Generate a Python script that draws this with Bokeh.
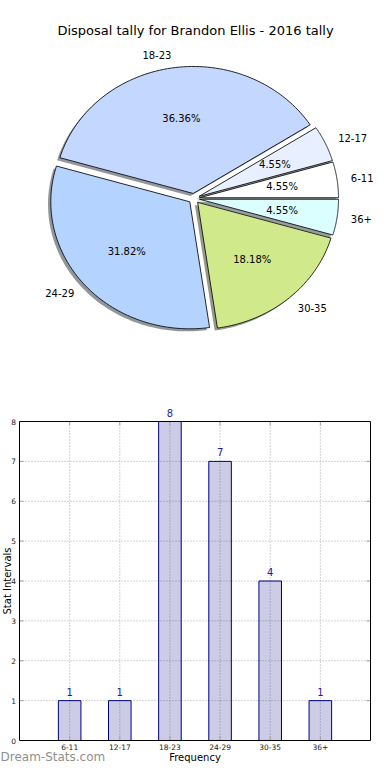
import numpy as np
from bokeh.plotting import figure
from bokeh.layouts import column
from bokeh.models import ColumnDataSource, Range1d
from bokeh.core.properties import value
from bokeh.embed import file_html
from bokeh.resources import INLINE

# ---------------- data ----------------
title_text = "Disposal tally for Brandon Ellis - 2016 tally"
categories = ["6-11", "12-17", "18-23", "24-29", "30-35", "36+"]
counts = [1, 1, 8, 7, 4, 1]
pie_colors = ["#FFFFFF", "#E8F0FF", "#C4D8FF", "#B4D4FF", "#D0EA8B", "#DBFFFF"]
y_ticks = [0, 1, 2, 3, 4, 5, 6, 7, 8]
x_label = "Frequency"
y_label = "Stat Intervals"
watermark = "Dream-Stats.com"

FONT = "DejaVu Sans"

# ---------------- pie ----------------
W, H1 = 374, 382
CX, CY = 193.5, 198.0
RX, RY = 139.0, 127.0
x0, x1 = -CX / RX, (W - CX) / RX
y1, y0 = CY / RY, -(H1 - CY) / RY


def px2x(px):
    return x0 + px / RX


def py2y(py):
    return y1 - py / RY


p1 = figure(width=W, height=H1, x_range=Range1d(x0, x1), y_range=Range1d(y0, y1),
            output_backend="svg", toolbar_location=None, min_border=0,
            x_axis_location=None, y_axis_location=None)
p1.grid.visible = False
p1.outline_line_color = None

total = float(sum(counts))
fr = np.array(counts) / total
ends = np.cumsum(fr) * 360.0
starts = ends - fr * 360.0
mids = np.radians((starts + ends) / 2.0)
EXPLODE = 0.04
SH = 0.02

xs, ys, sxs, sys_, shadow_cols = [], [], [], [], []
for a0, a1, m, col in zip(starts, ends, mids, pie_colors):
    t = np.radians(np.linspace(a0, a1, 80))
    ox, oy = EXPLODE * np.cos(m), EXPLODE * np.sin(m)
    px = np.concatenate([[ox], ox + np.cos(t)])
    py = np.concatenate([[oy], oy + np.sin(t)])
    xs.append(px)
    ys.append(py)
    sxs.append(px - SH)
    sys_.append(py - SH)
    r, g, b = (int(col[i:i + 2], 16) for i in (1, 3, 5))
    shadow_cols.append("#%02x%02x%02x" % (int(r * 0.3), int(g * 0.3), int(b * 0.3)))

p1.patches(sxs, sys_, fill_color=shadow_cols, fill_alpha=0.55, line_color=None)
p1.patches(xs, ys, fill_color=pie_colors, line_color="#111111", line_width=0.9)

lx = EXPLODE * np.cos(mids) + 1.1 * np.cos(mids)
ly = EXPLODE * np.sin(mids) + 1.1 * np.sin(mids)
right = lx >= 0
for mask, align in ((right, "left"), (~right, "right")):
    p1.text(x=list(lx[mask]), y=list(ly[mask]),
            text=[c for c, k in zip(categories, mask) if k],
            text_align=align, text_baseline="middle", text_color="#000000",
            text_font=value(FONT), text_font_size="10px")

qx = (EXPLODE + 0.6) * np.cos(mids)
qy = (EXPLODE + 0.6) * np.sin(mids)
pct = ["%.2f%%" % (100.0 * f) for f in fr]
p1.text(x=list(qx), y=list(qy), text=pct, text_align="center",
        text_baseline="middle", text_color="#000000",
        text_font=value(FONT), text_font_size="10px")

p1.text(x=[px2x(195)], y=[py2y(30)], text=[title_text],
        text_align="center", text_baseline="middle", text_color="#000000",
        text_font=value(FONT), text_font_size="13px")

# ---------------- bars ----------------
H2 = 382
TOP0 = H1                             # page y where bar figure starts
FL, FR, FT, FB = 19, 370, 421, 740    # axes box edges in page pixels
n = len(categories)
pos = list(range(n))
ymax = y_ticks[-1]
ux = (FR - FL) / (n + 1.0)
uy = (FB - FT) / float(ymax)
bx0 = -1 - FL / ux
bx1 = n + (W - FR) / ux
by1 = ymax + (FT - TOP0) / uy
by0 = -((TOP0 + H2) - FB) / uy

p2 = figure(width=W, height=H2, x_range=Range1d(bx0, bx1), y_range=Range1d(by0, by1),
            output_backend="svg", toolbar_location=None, min_border=0,
            x_axis_location=None, y_axis_location=None)
p2.grid.visible = False
p2.outline_line_color = None

# dotted grid (from the tick arrays)
p2.segment(x0=pos, y0=[y_ticks[0]] * n, x1=pos, y1=[ymax] * n,
           line_color="#a8a8a8", line_dash="1 2", line_width=1)
p2.segment(x0=[-1] * len(y_ticks), y0=y_ticks, x1=[n] * len(y_ticks), y1=y_ticks,
           line_color="#a8a8a8", line_dash="1 2", line_width=1)

src = ColumnDataSource(dict(x=pos, top=counts))
p2.vbar(x="x", top="top", width=0.45, source=src, fill_color="#000080",
        fill_alpha=0.2, line_color="#000080", line_width=1)

# inward tick marks on all four sides
TK = 4.0
ny = len(y_ticks)
p2.segment(x0=[-1] * ny, y0=y_ticks, x1=[-1 + TK / ux] * ny, y1=y_ticks,
           line_color="#a0a0a0", line_width=1)
p2.segment(x0=[n] * ny, y0=y_ticks, x1=[n - TK / ux] * ny, y1=y_ticks,
           line_color="#a0a0a0", line_width=1)
p2.segment(x0=pos, y0=[0] * n, x1=pos, y1=[TK / uy] * n,
           line_color="#a0a0a0", line_width=1)
p2.segment(x0=pos, y0=[ymax] * n, x1=pos, y1=[ymax - TK / uy] * n,
           line_color="#a0a0a0", line_width=1)

# axes box
p2.quad(left=[-1], right=[n], bottom=[y_ticks[0]], top=[ymax],
        fill_color=None, line_color="#000000", line_width=1)

# tick labels
p2.text(x=[-1 - 3.5 / ux] * ny, y=y_ticks, text=[str(v) for v in y_ticks],
        text_align="right", text_baseline="middle", text_color="#222222",
        text_font=value(FONT), text_font_size="7.5px")
p2.text(x=pos, y=[-3.0 / uy] * n, text=categories,
        text_align="center", text_baseline="top", text_color="#222222",
        text_font=value(FONT), text_font_size="7.5px")

# value labels
p2.text(x=pos, y=[c + 9.0 / uy for c in counts], text=[str(c) for c in counts],
        text_align="center", text_baseline="alphabetic", text_color="#1c1c9c",
        text_font=value(FONT), text_font_size="10px")

# axis labels and watermark
p2.text(x=[(n - 1) / 2.0], y=[-(756.5 - FB) / uy], text=[x_label],
        text_align="center", text_baseline="middle", text_color="#000000",
        text_font=value(FONT), text_font_size="10px")
p2.text(x=[-1 - (FL - 6.5) / ux], y=[ymax / 2.0], text=[y_label], angle=np.pi / 2,
        text_align="center", text_baseline="middle", text_color="#000000",
        text_font=value(FONT), text_font_size="10px")
p2.text(x=[bx0], y=[-(756.5 - FB) / uy], text=[watermark],
        text_align="left", text_baseline="middle", text_color="#8f8f8f",
        text_font=value(FONT), text_font_size="12px")

layout = column(p1, p2, spacing=0)
open("out.html", "w").write(file_html(layout, INLINE))
